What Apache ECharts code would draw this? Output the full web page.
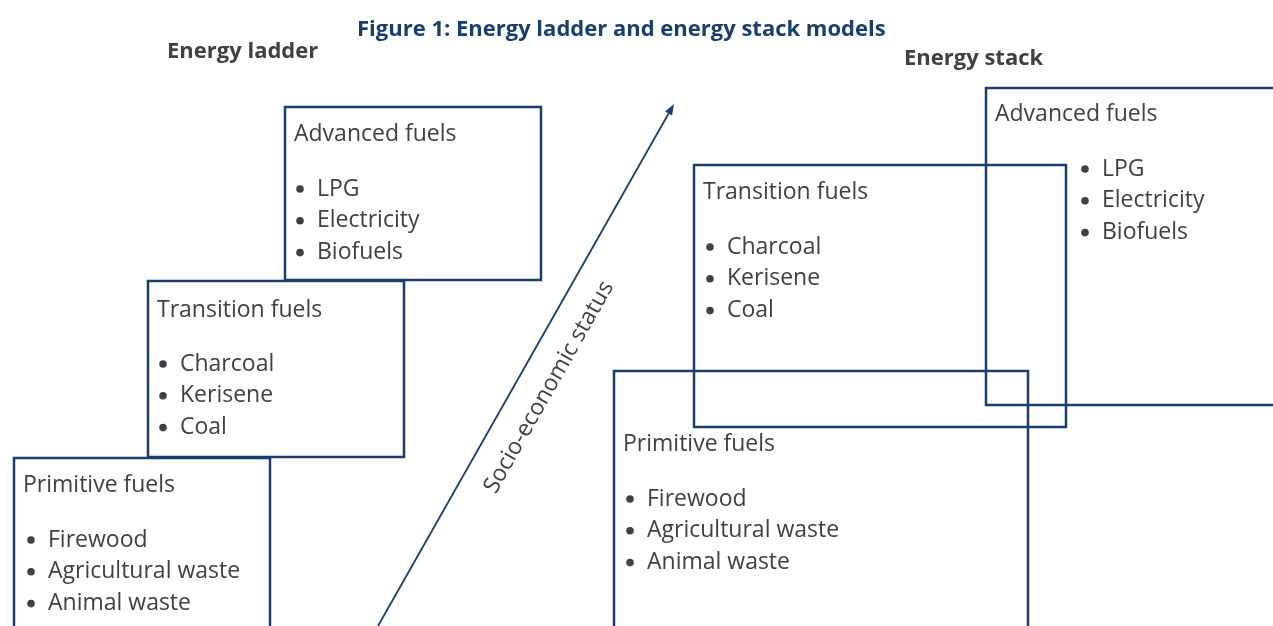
<!DOCTYPE html>
<html lang="en">
<head>
  <meta charset="UTF-8">
  <title>Energy ladder and energy stack models</title>
  <style>
    html, body { margin: 0; padding: 0; background: #fff; }
    #chart { width: 1273px; height: 626px; }
  </style>
</head>
<body>
  <div id="chart"></div>
  <script src="https://cdn.jsdelivr.net/npm/echarts@6/dist/echarts.min.js"></script>
  <script>
    // categories and their fuels
    var fuelGroups = ['Advanced fuels', 'Transition fuels', 'Primitive fuels'];
    var advancedFuels = ['LPG', 'Electricity', 'Biofuels'];
    var transitionFuels = ['Charcoal', 'Kerisene', 'Coal'];
    var primitiveFuels = ['Firewood', 'Agricultural waste', 'Animal waste'];
    var groupItems = [advancedFuels, transitionFuels, primitiveFuels];
    var panelTitles = ['Energy ladder', 'Energy stack'];
    var axisLabel = 'Socio-economic status';

    // layout (page units): box extents + text offsets inside the box
    // [x0, y0, x1, y1, groupIndex, titleDy, itemDx, itemDy]
    var boxLayout = [
      [285, 107, 541, 280, 0, 27, 15, 82],
      [148, 281, 404, 457, 1, 29, 15, 83],
      [14, 458, 270, 640, 2, 27, 17, 82],
      [986, 88, 1290, 405, 0, 26, 99, 81],
      [694, 165, 1066, 427, 1, 27, 16, 82],
      [614, 371, 1028, 640, 2, 73, 16, 128]
    ];
    var arrowLayout = [[378, 626, 674, 104]];

    var navy = '#183f6c';
    var grey = '#404040';
    var font = 'Open Sans';

    var chart = echarts.init(document.getElementById('chart'));

    function renderBox(params, api) {
      var p0 = api.coord([api.value(0), api.value(1)]);
      var p1 = api.coord([api.value(2), api.value(3)]);
      var g = api.value(4);
      var titleDy = api.value(5), itemDx = api.value(6), itemDy = api.value(7);
      var children = [{
        type: 'rect',
        shape: { x: p0[0], y: p0[1], width: p1[0] - p0[0], height: p1[1] - p0[1] },
        style: { fill: 'none', stroke: navy, lineWidth: 2.5 }
      }, {
        type: 'text',
        style: {
          text: fuelGroups[g], x: p0[0] + 9, y: p0[1] + titleDy,
          fill: grey, fontSize: 23, fontFamily: font, verticalAlign: 'middle'
        }
      }];
      groupItems[g].forEach(function (name, i) {
        var cy = p0[1] + itemDy + i * 31.8;
        children.push({
          type: 'circle',
          shape: { cx: p0[0] + itemDx, cy: cy, r: 3.8 },
          style: { fill: grey }
        });
        children.push({
          type: 'text',
          style: {
            text: name, x: p0[0] + itemDx + 17, y: cy,
            fill: grey, fontSize: 23, fontFamily: font, verticalAlign: 'middle'
          }
        });
      });
      return { type: 'group', children: children };
    }

    function renderArrow(params, api) {
      var a = api.coord([api.value(0), api.value(1)]);
      var b = api.coord([api.value(2), api.value(3)]);
      var dx = b[0] - a[0], dy = b[1] - a[1];
      var len = Math.sqrt(dx * dx + dy * dy);
      var ux = dx / len, uy = dy / len;
      var head = 11, half = 4;
      var base = [b[0] - ux * head, b[1] - uy * head];
      var mid = [(a[0] + b[0]) / 2, (a[1] + b[1]) / 2];
      // perpendicular pointing to upper-right side
      var nx = -uy, ny = ux;
      if (nx < 0) { nx = -nx; ny = -ny; }
      var off = 31, along = -8;
      return {
        type: 'group',
        children: [{
          type: 'line',
          shape: { x1: a[0], y1: a[1], x2: base[0], y2: base[1] },
          style: { stroke: navy, lineWidth: 1.8 }
        }, {
          type: 'polygon',
          shape: {
            points: [
              [b[0], b[1]],
              [base[0] - uy * half, base[1] + ux * half],
              [base[0] + uy * half, base[1] - ux * half]
            ]
          },
          style: { fill: navy }
        }, {
          type: 'text',
          x: mid[0] + nx * off + ux * along,
          y: mid[1] + ny * off + uy * along,
          rotation: Math.atan2(-dy, dx),
          style: {
            text: axisLabel, x: 0, y: 0, align: 'center', verticalAlign: 'middle',
            fill: grey, fontSize: 23, fontFamily: font
          }
        }]
      };
    }

    var option = {
      animation: false,
      title: [{
        text: 'Figure 1: Energy ladder and energy stack models',
        left: 352, top: 14,
        textStyle: { color: navy, fontSize: 22, fontWeight: 'bold', fontFamily: font }
      }, {
        text: panelTitles[0], left: 162, top: 36,
        textStyle: { color: grey, fontSize: 22, fontWeight: 'bold', fontFamily: font }
      }, {
        text: panelTitles[1], left: 899, top: 43,
        textStyle: { color: grey, fontSize: 22, fontWeight: 'bold', fontFamily: font }
      }],
      grid: { left: 0, right: 0, top: 0, bottom: 0 },
      xAxis: { type: 'value', min: 0, max: 1273, show: false },
      yAxis: { type: 'value', min: 0, max: 626, inverse: true, show: false },
      series: [{
        type: 'custom',
        renderItem: renderBox,
        clip: true,
        data: boxLayout
      }, {
        type: 'custom',
        renderItem: renderArrow,
        clip: true,
        data: arrowLayout
      }]
    };
    chart.setOption(option);
  </script>
</body>
</html>
